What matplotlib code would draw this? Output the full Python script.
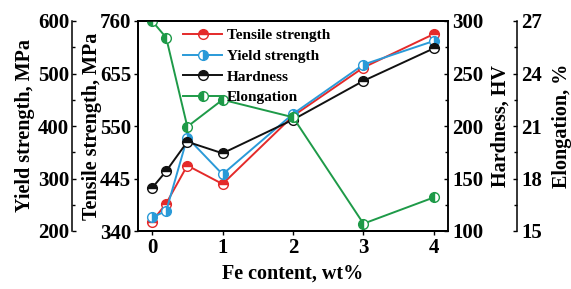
import numpy as np
import matplotlib
matplotlib.use("Agg")
import matplotlib.pyplot as plt
from matplotlib.ticker import MultipleLocator

plt.rcParams['font.family'] = ['Liberation Serif', 'DejaVu Serif']
plt.rcParams['font.weight'] = 'bold'

fe = [0, 0.2, 0.5, 1, 2, 3, 4]
tensile = [359, 395, 471, 434, 570, 667, 734]
yield_s = [226, 238, 378, 308, 423, 517, 562]
hardness = [141, 157, 185, 174, 206, 243, 274]
elong = [27.0, 26.05, 20.96, 22.5, 21.5, 15.42, 16.92]

c_red = '#e42a2a'
c_blue = '#2a9ad8'
c_black = '#111111'
c_green = '#1e9a48'

fig = plt.figure(figsize=(5.71, 2.89), dpi=100)
ax = fig.add_axes([138/571, 58/289, 310/571, 210/289])

ax_y = ax.twinx()
ax_h = ax.twinx()
ax_e = ax.twinx()

mk = dict(marker='o', markersize=7, lw=1.4, markerfacecoloralt='white')

l1, = ax.plot(fe, tensile, color=c_red, mfc=c_red, mec=c_red, fillstyle='top',
              label='Tensile strength', **mk)
l2, = ax_y.plot(fe, yield_s, color=c_blue, mfc=c_blue, mec=c_blue, fillstyle='right',
                label='Yield strength', **mk)
l3, = ax_h.plot(fe, hardness, color=c_black, mfc=c_black, mec=c_black, fillstyle='top',
                label='Hardness', **mk)
l4, = ax_e.plot(fe, elong, color=c_green, mfc=c_green, mec=c_green, fillstyle='left',
                label='Elongation', **mk)

fs_tick = 15
fs_lab = 14.5

ax.set_xlim(-0.2, 4.2)
ax.set_xticks([0, 1, 2, 3, 4])
ax.set_ylim(340, 760)
ax.set_yticks([340, 445, 550, 655, 760])
ax.tick_params(axis='both', direction='out', labelsize=fs_tick, length=3, width=1, pad=2)
ax.set_xlabel('Fe content, wt%', fontsize=fs_lab, fontweight='bold', labelpad=4)
ax.set_ylabel('Tensile strength, MPa', fontsize=fs_lab, fontweight='bold', labelpad=-2)

# yield axis on the far left (offset in points: 66 px)
ax_y.spines['left'].set_position(('outward', 66 * 0.72))
ax_y.spines['left'].set_visible(True)
ax_y.spines['right'].set_visible(False)
ax_y.yaxis.set_ticks_position('left')
ax_y.yaxis.set_label_position('left')
ax_y.set_ylim(200, 600)
ax_y.set_yticks([200, 300, 400, 500, 600])
ax_y.yaxis.set_minor_locator(MultipleLocator(50))
ax_y.tick_params(axis='y', which='both', direction='in', labelsize=fs_tick, length=3, width=1, pad=2)
ax_y.tick_params(axis='y', which='minor', length=2)
ax_y.set_ylabel('Yield strength, MPa', fontsize=fs_lab, fontweight='bold', labelpad=2)

# hardness axis on the right spine
ax_h.set_ylim(100, 300)
ax_h.set_yticks([100, 150, 200, 250, 300])
ax_h.yaxis.set_minor_locator(MultipleLocator(25))
ax_h.tick_params(axis='y', which='both', direction='in', labelsize=fs_tick, length=3, width=1, pad=3)
ax_h.tick_params(axis='y', which='minor', length=2)
ax_h.set_ylabel('Hardness, HV', fontsize=fs_lab, fontweight='bold', labelpad=5)

# elongation axis offset to the right (69 px)
ax_e.spines['right'].set_position(('outward', 69 * 0.72))
ax_e.set_ylim(15, 27)
ax_e.set_yticks([15, 18, 21, 24, 27])
ax_e.yaxis.set_minor_locator(MultipleLocator(1.5))
ax_e.tick_params(axis='y', which='both', direction='in', labelsize=fs_tick, length=3, width=1, pad=3)
ax_e.tick_params(axis='y', which='minor', length=2)
ax_e.set_ylabel('Elongation, %', fontsize=fs_lab, fontweight='bold', labelpad=7)

for a in (ax, ax_y, ax_h, ax_e):
    for s in a.spines.values():
        s.set_linewidth(1.1)
    for t in a.get_yticklabels() + a.get_xticklabels():
        t.set_fontweight('bold')

leg = ax_e.legend(handles=[l1, l2, l3, l4], loc='upper left',
                  bbox_to_anchor=(0.10, 1.03), frameon=False,
                  prop={'size': 11, 'weight': 'bold'},
                  handlelength=2.6, handletextpad=0.3, labelspacing=0.46)

fig.savefig('out.png', dpi=100)
